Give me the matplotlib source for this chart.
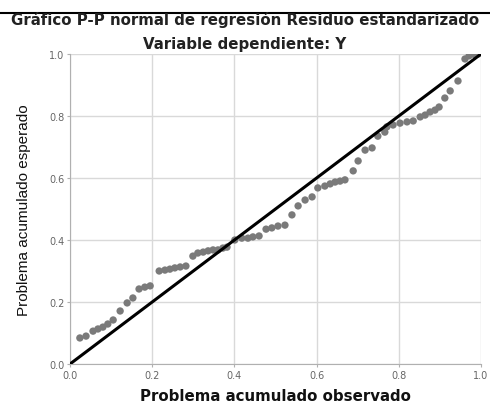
import matplotlib
matplotlib.use("Agg")
import matplotlib.pyplot as plt
from matplotlib.lines import Line2D

prob_obs = [0.024, 0.039, 0.056, 0.068, 0.080, 0.092, 0.105, 0.122, 0.139, 0.153,
            0.168, 0.182, 0.195, 0.217, 0.231, 0.243, 0.255, 0.268, 0.282, 0.299,
            0.311, 0.324, 0.336, 0.348, 0.360, 0.372, 0.382, 0.401, 0.418, 0.433,
            0.445, 0.460, 0.477, 0.491, 0.506, 0.523, 0.540, 0.555, 0.572, 0.589,
            0.603, 0.620, 0.633, 0.645, 0.657, 0.669, 0.689, 0.701, 0.718, 0.735,
            0.749, 0.766, 0.771, 0.786, 0.803, 0.820, 0.835, 0.852, 0.864, 0.876,
            0.888, 0.898, 0.912, 0.925, 0.944, 0.961, 0.971, 0.985, 0.993]
prob_esp = [0.084, 0.090, 0.106, 0.113, 0.119, 0.129, 0.142, 0.171, 0.197, 0.213,
            0.242, 0.248, 0.252, 0.300, 0.303, 0.306, 0.310, 0.313, 0.316, 0.348,
            0.358, 0.361, 0.365, 0.368, 0.368, 0.374, 0.377, 0.400, 0.406, 0.406,
            0.410, 0.413, 0.435, 0.439, 0.445, 0.448, 0.481, 0.510, 0.529, 0.539,
            0.568, 0.574, 0.581, 0.587, 0.590, 0.594, 0.623, 0.655, 0.690, 0.697,
            0.735, 0.748, 0.765, 0.771, 0.777, 0.781, 0.784, 0.797, 0.803, 0.813,
            0.819, 0.829, 0.858, 0.881, 0.913, 0.984, 0.994, 0.997, 1.000]
ref_linea = [0.0, 1.0]
ticks = [0.0, 0.2, 0.4, 0.6, 0.8, 1.0]
tick_labels = ["0.0", "0.2", "0.4", "0.6", "0.8", "1.0"]

plt.rcParams['font.family'] = ['Liberation Sans', 'DejaVu Sans']
ancho = ['DejaVu Sans']   # letra mas ancha, como en el original

fig = plt.figure(figsize=(4.9, 4.06), dpi=100)
ax = fig.add_axes([70/490, 41/406, 411/490, 310/406])

ax.scatter(prob_obs, prob_esp, s=28, color='#7a7a7a', edgecolors='none', zorder=3)
ax.plot(ref_linea, ref_linea, color='black', lw=2.2, zorder=4)

ax.set_xlim(0, 1)
ax.set_ylim(0, 1)
ax.set_xticks(ticks)
ax.set_xticklabels(tick_labels, family=ancho)
ax.set_yticks(ticks)
ax.set_yticklabels(tick_labels, family=ancho)
ax.grid(True, color='#d9d9d9', lw=1)
ax.set_axisbelow(True)
for s in ['top', 'right']:
    ax.spines[s].set_visible(False)
for s in ['left', 'bottom']:
    ax.spines[s].set_color('#b0b0b0')
ax.tick_params(labelsize=7, colors='#b0b0b0', labelcolor='#666666', length=2, pad=2)

ax.set_xlabel('Problema acumulado observado', fontsize=10.8, fontweight='bold',
              labelpad=6, color='#111111', family=ancho)
ax.set_ylabel('Problema acumulado esperado', fontsize=11, labelpad=13, color='#111111')

fig.text(0.5, 1 - 25/406, 'Gráfico P-P normal de regresión Residuo estandarizado',
         ha='center', va='baseline', fontsize=10.8, fontweight='bold', color='#222222',
         family=ancho)
fig.text(0.5, 1 - 49/406, 'Variable dependiente: Y',
         ha='center', va='baseline', fontsize=10.8, fontweight='bold', color='#222222',
         family=ancho)
fig.add_artist(Line2D([0, 1], [1 - 14/406, 1 - 14/406], color='black', lw=1.5,
                      transform=fig.transFigure))

fig.savefig('out.png', dpi=100)
